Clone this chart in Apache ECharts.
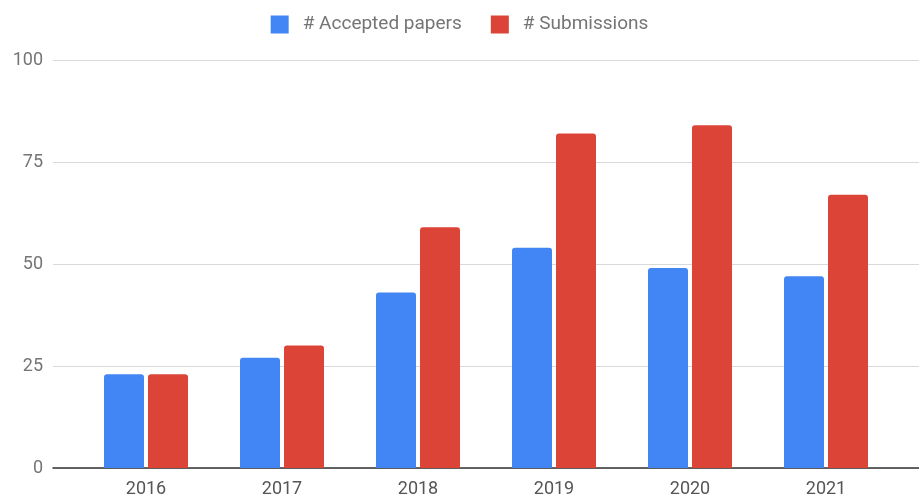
<!DOCTYPE html>
<html>
<head>
<meta charset="utf-8">
<script src="https://cdn.jsdelivr.net/npm/echarts@6/dist/echarts.min.js"></script>
<style>
  html, body { margin: 0; padding: 0; background: #fff; }
  #main { width: 919px; height: 498px; }
</style>
</head>
<body>
<div id="main"></div>
<script>
var years = ['2016', '2017', '2018', '2019', '2020', '2021'];
var accepted = [23, 27, 43, 54, 49, 47];
var submissions = [23, 30, 59, 82, 84, 67];
var yTicks = [0, 25, 50, 75, 100];

var chart = echarts.init(document.getElementById('main'));

var option = {
    animation: false,
    textStyle: { fontFamily: 'Roboto' },
    legend: {
        top: 10,
        left: 'center',
        itemWidth: 18,
        itemHeight: 18,
        itemGap: 29,
        icon: 'rect',
        textStyle: { fontSize: 19, color: '#757575', padding: [0, 0, 0, 9] },
        data: ['# Accepted papers', '# Submissions']
    },
    grid: [
        // background grid: gridlines and y labels
        { left: 53, right: 0, top: 60, bottom: 30 },
        // bars
        { left: 78, right: 25, top: 60, bottom: 30 }
    ],
    xAxis: [
        {
            gridIndex: 0, type: 'category', data: years,
            axisLine: { lineStyle: { color: '#333', width: 1.5 } },
            axisTick: { show: false }, axisLabel: { show: false }
        },
        {
            gridIndex: 1, type: 'category', data: years,
            axisLine: { show: false }, axisTick: { show: false },
            axisLabel: { fontSize: 18, color: '#555', margin: 12 }
        }
    ],
    yAxis: [
        {
            gridIndex: 0, type: 'value', min: yTicks[0], max: yTicks[yTicks.length - 1], interval: 25,
            axisLine: { show: false }, axisTick: { show: false },
            axisLabel: { fontSize: 18, color: '#757575', margin: 10 },
            splitLine: { lineStyle: { color: '#d9d9d9' } }
        },
        {
            gridIndex: 1, type: 'value', min: 0, max: 100, show: false,
            splitLine: { show: false }
        }
    ],
    series: [
        {
            name: '# Accepted papers', type: 'bar', xAxisIndex: 1, yAxisIndex: 1,
            data: accepted, barWidth: 40, barGap: '10%',
            itemStyle: { color: '#4285F4', borderRadius: [3, 3, 0, 0] }
        },
        {
            name: '# Submissions', type: 'bar', xAxisIndex: 1, yAxisIndex: 1,
            data: submissions, barWidth: 40, barGap: '10%',
            itemStyle: { color: '#DB4437', borderRadius: [3, 3, 0, 0] }
        }
    ]
};

chart.setOption(option);
</script>
</body>
</html>
